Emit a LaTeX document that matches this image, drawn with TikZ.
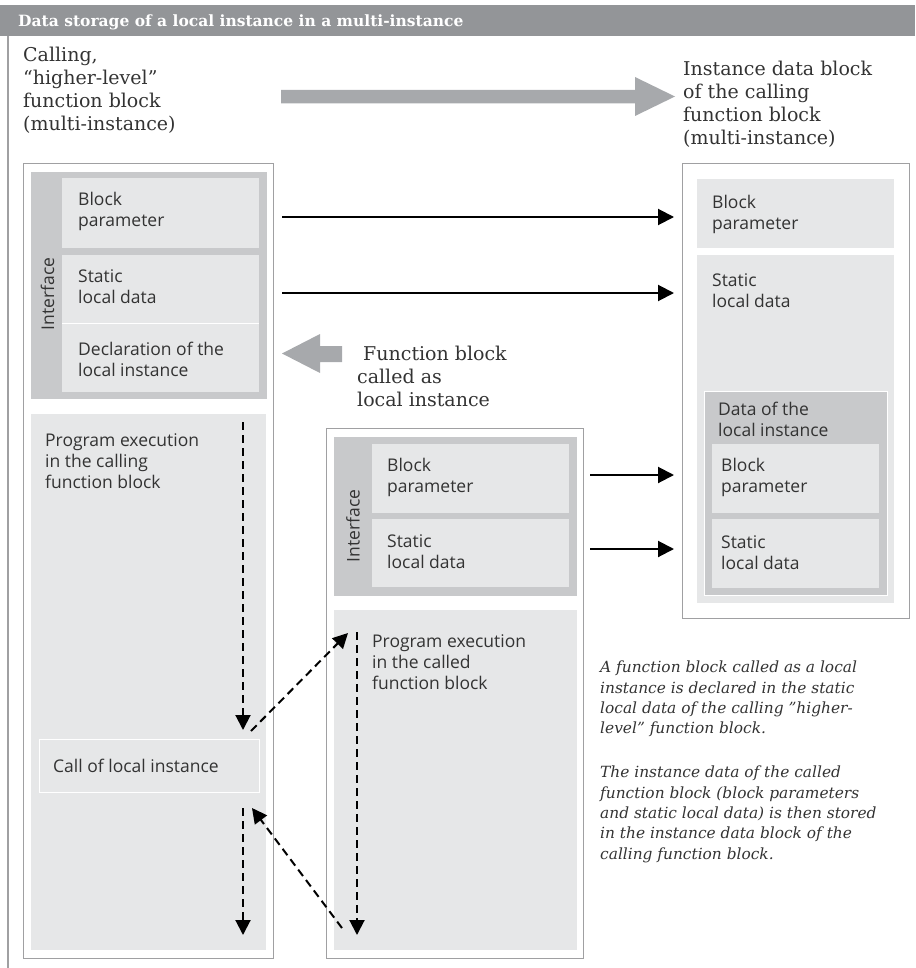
\documentclass[tikz,border=0pt]{standalone}
\usepackage{fontspec}
\setmainfont{DejaVu Serif}
\newfontfamily\sansf{Open Sans}
\usetikzlibrary{arrows.meta,calc}
\definecolor{titlegray}{HTML}{939598}
\definecolor{boxlight}{HTML}{E6E7E8}
\definecolor{boxdark}{HTML}{C8C9CB}
\definecolor{framegray}{HTML}{A0A0A2}
\definecolor{arrowgray}{HTML}{A7A9AC}
\definecolor{textcol}{HTML}{333333}
\begin{document}
\begin{tikzpicture}[x=1pt,y=-1pt,
  area/.style={anchor=north west, inner sep=0pt, outer sep=0pt},
  lightbox/.style={area, fill=boxlight},
  darkbox/.style={area, fill=boxdark},
  framebox/.style={area, draw=framegray, line width=1pt, fill=white},
  sanslabel/.style={anchor=north west, inner sep=0pt, align=left, text=textcol, font=\sansf\fontsize{17.5}{21}\selectfont},
  rotlabel/.style={rotate=90, inner sep=0pt, text=textcol, font=\sansf\fontsize{17.5}{21}\selectfont},
  seriflabel/.style={anchor=north west, inner sep=0pt, align=left, text=textcol, font=\fontsize{19}{23}\selectfont},
  notelabel/.style={anchor=north west, inner sep=0pt, align=left, text=textcol, font=\itshape\fontsize{15.4}{20.3}\selectfont},
  flow/.style={-{Triangle[length=16pt,width=16pt]}, line width=2pt, draw=black},
  ctrl/.style={-{Triangle[length=15pt,width=15pt]}, line width=2pt, draw=black, dash pattern=on 8pt off 5pt},
  bigarrow/.style={fill=arrowgray, draw=none}
]
\useasboundingbox (0,0) rectangle (915,968);

% title bar
\node[area, fill=titlegray, minimum width=915pt, minimum height=31pt] (titlebar) at (0,5) {};
\node[anchor=base west, inner sep=0pt, text=white, font=\bfseries\fontsize{15.5}{19}\selectfont] (title) at (18,27) {Data storage of a local instance in a multi-instance};
\draw[framegray, line width=1.5pt] ($(titlebar.south west)+(8,0)$) -- (8,968);

% header labels
\node[seriflabel] (callinglbl) at (23,47) {Calling,\\“higher-level”\\function block\\(multi-instance)};
\node[seriflabel] (idblbl) at (683,61) {Instance data block\\of the calling\\function block\\(multi-instance)};
\node[seriflabel] (locallbl) at (357,346) {\hspace*{6pt}Function block\\called as\\local instance};

% big gray arrows
\fill[bigarrow] (281,90) -- (635,90) -- (635,77) -- (675,96.5) -- (635,116) -- (635,103.5) -- (281,103.5) -- cycle;
\fill[bigarrow] (342,346) -- (320,346) -- (320,334) -- (282,353.5) -- (320,373) -- (320,362) -- (342,362) -- cycle;

% ---------- left: calling function block
\node[framebox, minimum width=250pt, minimum height=794pt] (lframe) at (23,164) {};
\node[darkbox, minimum width=236pt, minimum height=227pt] (lif) at (31,172) {};
\node[lightbox, minimum width=197pt, minimum height=70pt] (lbp) at (62,178) {};
\node[lightbox, minimum width=197pt, minimum height=68pt] (lsl) at (62,255) {};
\node[lightbox, minimum width=197pt, minimum height=69pt] (ldecl) at (62,323) {};
\draw[white, line width=1pt] (ldecl.north west) -- (ldecl.north east);
\node[rotlabel] (liflbl) at (47.5,294) {Interface};
\node[sanslabel] (lbplbl) at (78,192) {Block\\parameter};
\node[sanslabel] (lsllbl) at (78,269) {Static\\local data};
\node[sanslabel] (ldecllbl) at (78,342) {Declaration of the\\local instance};
\node[lightbox, minimum width=235pt, minimum height=536pt] (lprog) at (31,414) {};
\node[sanslabel] (lproglbl) at (45,433) {Program execution\\in the calling\\function block};
\node[lightbox, draw=white, line width=1pt, minimum width=220pt, minimum height=53pt] (callbox) at (39,739) {};
\node[anchor=west, inner sep=0pt, text=textcol, font=\sansf\fontsize{17.5}{21}\selectfont] (calllbl) at ($(callbox.west)+(14,0)$) {Call of local instance};

% ---------- middle: called function block
\node[framebox, minimum width=257pt, minimum height=530pt] (mframe) at (326,428) {};
\node[darkbox, minimum width=243pt, minimum height=159pt] (mif) at (334,437) {};
\node[lightbox, minimum width=197pt, minimum height=69pt] (mbp) at (372,444) {};
\node[lightbox, minimum width=197pt, minimum height=68pt] (msl) at (372,519) {};
\node[rotlabel] (miflbl) at (353,526) {Interface};
\node[sanslabel] (mbplbl) at (387,458) {Block\\parameter};
\node[sanslabel] (msllbl) at (387,534) {Static\\local data};
\node[lightbox, minimum width=243pt, minimum height=340pt] (mprog) at (334,610) {};
\node[sanslabel] (mproglbl) at (372,634) {Program execution\\in the called\\function block};

% ---------- right: instance data block
\node[framebox, minimum width=227pt, minimum height=454pt] (rframe) at (682,164) {};
\node[lightbox, minimum width=197pt, minimum height=69pt] (rbp) at (697,179) {};
\node[lightbox, minimum width=197pt, minimum height=348pt] (rsl) at (697,255) {};
\node[sanslabel] (rbplbl) at (712,195) {Block\\parameter};
\node[sanslabel] (rsllbl) at (712,273) {Static\\local data};
\node[darkbox, draw=white, line width=1pt, minimum width=183pt, minimum height=204pt] (rdata) at (704,391) {};
\node[sanslabel] (rdatalbl) at (718,402) {Data of the\\local instance};
\node[lightbox, minimum width=167pt, minimum height=69pt] (ribp) at (712,444) {};
\node[lightbox, minimum width=167pt, minimum height=69pt] (risl) at (712,519) {};
\node[sanslabel] (ribplbl) at (721,458) {Block\\parameter};
\node[sanslabel] (risllbl) at (721,535) {Static\\local data};

% ---------- data flow arrows
\coordinate (f1) at (282,217);
\coordinate (f2) at (282,293);
\coordinate (f3) at (590,475);
\coordinate (f4) at (590,549);
\draw[flow] (f1) -- ($(rframe.west |- f1)+(-8,0)$);
\draw[flow] (f2) -- ($(rframe.west |- f2)+(-8,0)$);
\draw[flow] (f3) -- ($(rframe.west |- f3)+(-8,0)$);
\draw[flow] (f4) -- ($(rframe.west |- f4)+(-8,0)$);

% ---------- program flow (dashed)
\coordinate (d1s) at (243,422);
\coordinate (d1e) at (243,730);
\coordinate (d2s) at (251,731);
\coordinate (d2e) at (348,633);
\coordinate (d3s) at (357,632);
\coordinate (d3e) at (357,935);
\coordinate (d4s) at (342,928);
\coordinate (d4e) at (252,808);
\coordinate (d5s) at (243,808);
\coordinate (d5e) at (243,935);
\draw[ctrl] (d1s) -- (d1e);
\draw[ctrl] (d2s) -- (d2e);
\draw[ctrl] (d3s) -- (d3e);
\draw[ctrl] (d4s) -- (d4e);
\draw[ctrl] (d5s) -- (d5e);

% ---------- note
\node[notelabel] (note) at (600,661) {A function block called as a local\\instance is declared in the static\\local data of the calling "higher-\\level" function block.\\[23.7pt]The instance data of the called\\function block (block parameters\\and static local data) is then stored\\in the instance data block of the\\calling function block.};
\end{tikzpicture}
\end{document}
